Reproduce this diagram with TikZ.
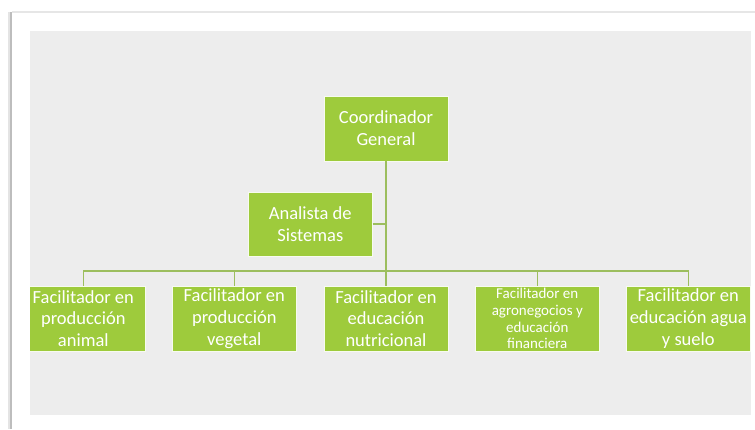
\documentclass[tikz,border=0pt]{standalone}
\usepackage{fontspec}
\setmainfont{Carlito}
\definecolor{boxgreen}{HTML}{9ECB3C}
\definecolor{linegreen}{HTML}{9CBE5E}
\definecolor{bggray}{HTML}{EDEDED}
\definecolor{shadow}{HTML}{BDBDBD}
\definecolor{topline}{HTML}{E6E6E6}
\begin{document}
\begin{tikzpicture}[x=1pt,y=-1pt,
  orgbox/.style={rectangle, fill=boxgreen, draw=white!92!boxgreen, line width=0.8pt,
    minimum width=124pt, minimum height=65pt, inner sep=0pt, text=white, align=center,
    font=\fontsize{18.5}{21.8}\selectfont},
  smallbox/.style={orgbox, font=\fontsize{15}{16.8}\selectfont},
  conn/.style={draw=linegreen, line width=1.5pt}]
\useasboundingbox (0,0) rectangle (755,429);
\fill[white] (0,0) rectangle (755,429);
% page shadow
\fill[shadow!40] (8,12) rectangle (10,429);
\fill[shadow] (10,12) rectangle (12.2,429);
\fill[topline] (12,11) rectangle (755,13);
% background panel
\fill[bggray] (30,31) rectangle (751,415);
\begin{scope}
\clip (30,31) rectangle (751,415);
\node[orgbox] (coord) at (386,128.5) {Coordinador\\General};
\node[orgbox, minimum height=64pt] (an) at (310.3,224) {Analista de\\Sistemas};
\node[orgbox] (f1) at (83.3,318.5) {Facilitador en\\producción\\animal};
\node[orgbox] (f2) at (234.3,318.5) {Facilitador en\\producción\\vegetal};
\node[orgbox] (f3) at (386,318.5) {Facilitador en\\educación\\nutricional};
\node[smallbox] (f4) at (537.3,318.5) {Facilitador en\\agronegocios y\\educación\\financiera};
\node[orgbox] (f5) at (688.3,318.5) {Facilitador en\\educación agua\\y suelo};
\coordinate (bus) at (386,271);
\draw[conn] (coord.south) -- (f3.north);
\draw[conn] (an.east) -- (an.east -| coord.south);
\draw[conn] (f1.north) |- (bus) -| (f5.north);
\draw[conn] (f2.north) -- (f2.north |- bus);
\draw[conn] (f4.north) -- (f4.north |- bus);
\end{scope}
\end{tikzpicture}
\end{document}
